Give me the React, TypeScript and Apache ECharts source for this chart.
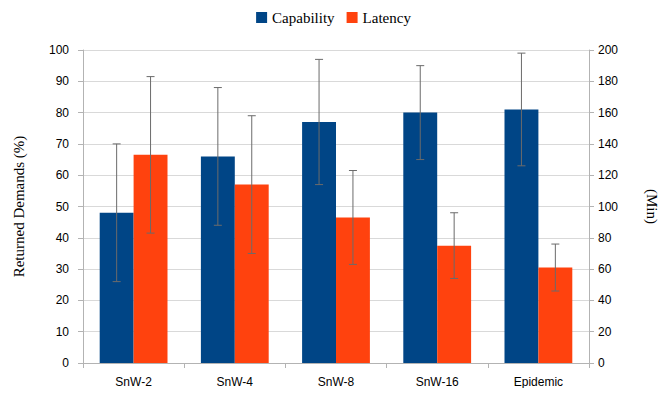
import React, { useEffect, useRef } from "react";
import * as echarts from "echarts";

const categories = ["SnW-2", "SnW-4", "SnW-8", "SnW-16", "Epidemic"];
const capability = [48, 66, 77, 80, 81];
const capabilityErr = [22, 22, 20, 15, 18];
const latency = [133, 114, 93, 75, 61];
const latencyErr = [50, 44, 30, 21, 15];
const leftTicks = { min: 0, max: 100, interval: 10 };
const rightTicks = { min: 0, max: 200, interval: 20 };

const BLUE = "#004586";
const ORANGE = "#ff420e";
const SANS = "Liberation Sans";
const SERIF = "Liberation Serif";

function errorSeries(name: string, vals: number[], errs: number[], yAxisIndex: number, side: number) {
  return {
    name,
    type: "custom",
    yAxisIndex,
    z: 5,
    data: vals.map((v, i) => [i, v - errs[i], v + errs[i]]),
    encode: { x: 0, y: [1, 2] },
    renderItem: (params: any, api: any) => {
      const idx = api.value(0);
      const band = api.size([1, 0])[0];
      const lo = api.coord([idx, api.value(1)]);
      const hi = api.coord([idx, api.value(2)]);
      const x = lo[0] + side * band * 0.1675;
      const cap = 4;
      const style = { stroke: "#6b6b6b", lineWidth: 1 };
      return {
        type: "group",
        children: [
          { type: "line", shape: { x1: x, y1: hi[1], x2: x, y2: lo[1] }, style },
          { type: "line", shape: { x1: x - cap, y1: hi[1], x2: x + cap, y2: hi[1] }, style },
          { type: "line", shape: { x1: x - cap, y1: lo[1], x2: x + cap, y2: lo[1] }, style },
        ],
      };
    },
  };
}

export default function App() {
  const ref = useRef<HTMLDivElement>(null);
  useEffect(() => {
    if (!ref.current) return;
    const chart = echarts.init(ref.current, undefined, { renderer: "svg" });
    chart.setOption({
      animation: false,
      legend: {
        top: 5,
        left: "center",
        data: ["Capability", "Latency"],
        icon: "rect",
        itemWidth: 11,
        itemHeight: 11,
        itemGap: 12,
        textStyle: { fontFamily: SERIF, fontSize: 15, color: "#000" },
      },
      grid: { left: 83, right: 64, top: 50, bottom: 33 },
      xAxis: {
        type: "category",
        data: categories,
        axisLine: { lineStyle: { color: "#b3b3b3" } },
        axisTick: { show: true, length: 5, lineStyle: { color: "#b3b3b3" } },
        axisLabel: { fontFamily: SANS, fontSize: 12, color: "#000", margin: 13 },
      },
      yAxis: [
        {
          type: "value",
          ...leftTicks,
          name: "Returned Demands (%)",
          nameLocation: "middle",
          nameGap: 57,
          nameTextStyle: { fontFamily: SERIF, fontSize: 15, color: "#000" },
          axisLine: { show: true, lineStyle: { color: "#b3b3b3" } },
          axisTick: { show: true, length: 5, lineStyle: { color: "#b3b3b3" } },
          axisLabel: { fontFamily: SANS, fontSize: 12, color: "#000", margin: 14 },
          splitLine: { lineStyle: { color: "#d9d9d9" } },
        },
        {
          type: "value",
          ...rightTicks,
          position: "right",
          name: "(Min)",
          nameLocation: "middle",
          nameRotate: -90,
          nameGap: 55,
          nameTextStyle: { fontFamily: SERIF, fontSize: 15, color: "#000" },
          axisLine: { show: true, lineStyle: { color: "#b3b3b3" } },
          axisTick: { show: true, length: 5, lineStyle: { color: "#b3b3b3" } },
          axisLabel: { fontFamily: SANS, fontSize: 12, color: "#000", margin: 9 },
          splitLine: { show: false },
        },
      ],
      series: [
        {
          name: "Capability",
          type: "bar",
          yAxisIndex: 0,
          data: capability,
          barCategoryGap: "33%",
          barGap: "0%",
          itemStyle: { color: BLUE },
        },
        {
          name: "Latency",
          type: "bar",
          yAxisIndex: 1,
          data: latency,
          barCategoryGap: "33%",
          barGap: "0%",
          itemStyle: { color: ORANGE },
        },
        errorSeries("capErr", capability, capabilityErr, 0, -1),
        errorSeries("latErr", latency, latencyErr, 1, 1),
      ],
    });
    return () => chart.dispose();
  }, []);
  return <div ref={ref} style={{ width: 667, height: 396, margin: -8 }} />;
}
